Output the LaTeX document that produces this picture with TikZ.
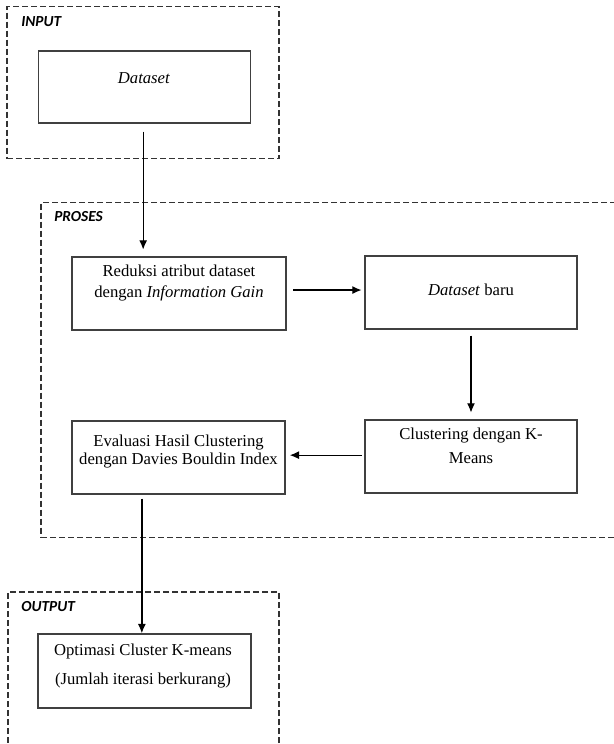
\documentclass[tikz,border=0pt]{standalone}
\usepackage{fontspec}
\setmainfont{Liberation Serif}
\newfontfamily\lblfont{Carlito}
\usetikzlibrary{arrows.meta}
\begin{document}
\begin{tikzpicture}[x=0.75pt,y=-0.75pt,
  area/.style={draw=black!80,line width=0.95pt,dash pattern=on 4.5pt off 2.25pt,rectangle,inner sep=0pt},
  procbox/.style={draw=black!75,line width=1.05pt,rectangle,inner sep=0pt},
  boxtext/.style={inner sep=0pt,align=center,font=\fontsize{12.5}{15.75}\selectfont},
  lbl/.style={inner sep=0pt,anchor=west,font=\lblfont\bfseries\itshape\fontsize{11.5}{13}\selectfont},
  arr/.style={line width=1pt,-{Latex[length=7pt,width=6pt]}}]
\useasboundingbox (0,0) rectangle (614,744);
\clip (0,0) rectangle (614,744);
% container areas
\node[area,minimum width=204pt,minimum height=114pt] (inputarea) at (143,82.5) {};
\node[area,minimum width=434.25pt,minimum height=251.25pt] (prosesarea) at (330.5,370) {};
\node[area,minimum width=203.25pt,minimum height=126pt] (outputarea) at (143.5,676) {};
\node[lbl] (inputlbl) at (21,22) {INPUT};
\node[lbl] (proseslbl) at (54,217) {PROSES};
\node[lbl] (outputlbl) at (21,607) {OUTPUT};
% process boxes
\node[procbox,minimum width=159pt,minimum height=54pt] (dataset) at (144.5,87) {};
\node[procbox,minimum width=160.5pt,minimum height=54.75pt] (reduksi) at (179,293.5) {};
\node[procbox,minimum width=159pt,minimum height=54.75pt] (dsbaru) at (471,292.5) {};
\node[procbox,minimum width=159pt,minimum height=54.75pt] (clustering) at (471,456.5) {};
\node[procbox,minimum width=159.75pt,minimum height=54.75pt] (evaluasi) at (178.5,457.5) {};
\node[procbox,minimum width=159.75pt,minimum height=55.5pt] (optimasi) at (144.5,671) {};
% texts
\node[boxtext] (datasettext) at (144,78) {\textit{Dataset}};
\node[boxtext] (reduksitext) at (179,283) {Reduksi atribut dataset\\dengan \textit{Information Gain}};
\node[boxtext] (dsbarutext) at (471,290) {\textit{Dataset} baru};
\node[boxtext,font=\fontsize{12.5}{18}\selectfont] (clusteringtext) at (471,446) {Clustering dengan K-\\Means};
\node[boxtext,font=\fontsize{12.5}{13.5}\selectfont] (evaluasitext) at (178.5,451.5) {Evaluasi Hasil Clustering\\dengan Davies Bouldin Index};
\node[boxtext,font=\fontsize{12.5}{21.75}\selectfont] (optimasitext) at (143,666) {Optimasi Cluster K-means\\(Jumlah iterasi berkurang)};
% connectors
\draw[arr,shorten <=6pt,shorten >=5pt] ([xshift=-1pt]dataset.south) -- ([xshift=-1pt]dataset.south |- reduksi.north);
\draw[arr,shorten <=5pt,shorten >=2pt] ([yshift=2.6pt]reduksi.east) -- ([yshift=2.6pt]reduksi.east -| dsbaru.west);
\draw[arr,shorten <=4.5pt,shorten >=5pt] (dsbaru.south) -- (clustering.north);
\draw[arr,shorten <=2pt,shorten >=3pt] ([yshift=1pt]clustering.west) -- ([yshift=1pt]clustering.west -| evaluasi.east);
\draw[arr,shorten <=3pt] ([xshift=-2pt]evaluasi.south -| optimasi.north) -- ([xshift=-2pt]optimasi.north);
\end{tikzpicture}
\end{document}
